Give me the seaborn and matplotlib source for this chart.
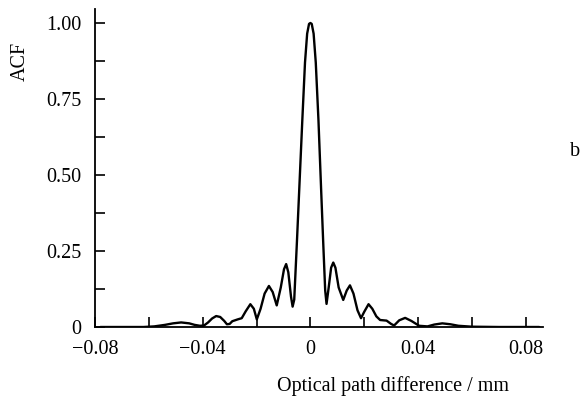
import matplotlib
matplotlib.use("Agg")
import matplotlib.pyplot as plt
import seaborn as sns
import pandas as pd
from matplotlib.ticker import FixedLocator, FixedFormatter

# Data
opd_mm = [-0.078, -0.070, -0.062, -0.058, -0.054, -0.051, -0.048, -0.045, -0.043, -0.041,
          -0.0395, -0.038, -0.0365, -0.035, -0.0335, -0.032, -0.031, -0.030, -0.029, -0.027,
          -0.0255, -0.024, -0.0223, -0.021, -0.0199, -0.0185, -0.017, -0.0154, -0.014, -0.0125,
          -0.011, -0.0098, -0.0090, -0.0082, -0.0072, -0.0066, -0.0060, -0.0050, -0.0040, -0.0030,
          -0.0020, -0.0012, -0.0005, 0.0, 0.0005, 0.0012, 0.0020, 0.0030, 0.0040, 0.0048,
          0.0055, 0.0060, 0.0068, 0.0077, 0.0085, 0.0093, 0.0105, 0.0122, 0.0135, 0.0147,
          0.0160, 0.0175, 0.0188, 0.0200, 0.0216, 0.0230, 0.0245, 0.0259, 0.0283, 0.0300,
          0.0311, 0.0330, 0.0352, 0.0375, 0.0404, 0.0435, 0.046, 0.049, 0.052, 0.055,
          0.060, 0.070, 0.085]
acf = [0.0, 0.0, 0.0, 0.002, 0.007, 0.012, 0.015, 0.012, 0.007, 0.004,
       0.005, 0.015, 0.028, 0.036, 0.033, 0.020, 0.009, 0.010, 0.019, 0.025,
       0.029, 0.052, 0.075, 0.060, 0.025, 0.060, 0.110, 0.135, 0.115, 0.071,
       0.130, 0.190, 0.207, 0.180, 0.100, 0.067, 0.090, 0.28, 0.48, 0.68,
       0.87, 0.965, 0.997, 1.0, 0.997, 0.965, 0.87, 0.68, 0.45, 0.27,
       0.12, 0.076, 0.13, 0.195, 0.212, 0.195, 0.130, 0.089, 0.120, 0.137,
       0.110, 0.055, 0.029, 0.050, 0.075, 0.060, 0.035, 0.023, 0.021, 0.010,
       0.005, 0.022, 0.030, 0.020, 0.004, 0.002, 0.008, 0.012, 0.009, 0.004,
       0.001, 0.0, 0.0]

x_ticks = [-0.08, -0.04, 0.0, 0.04, 0.08]
x_tick_labels = ["\u22120.08", "\u22120.04", "0", "0.04", "0.08"]
y_ticks = [0.0, 0.25, 0.50, 0.75, 1.00]
y_tick_labels = ["0", "0.25", "0.50", "0.75", "1.00"]

sns.set_theme(style="ticks")
plt.rcParams['font.family'] = ['Liberation Serif', 'DejaVu Serif']

df = pd.DataFrame({"opd": opd_mm, "acf": acf})

fig = plt.figure(figsize=(5.85, 3.96), dpi=100)
ax = fig.add_axes([95/585, 1-327/396, (543-95)/585, (327-9)/396])

sns.lineplot(data=df, x="opd", y="acf", ax=ax, color="black", linewidth=1.7,
             estimator=None, sort=False)

ax.set_xlim(-0.08, 0.0864)
ax.set_ylim(0, 1.046)

ax.xaxis.set_major_locator(FixedLocator(x_ticks))
ax.xaxis.set_major_formatter(FixedFormatter(x_tick_labels))
ax.xaxis.set_minor_locator(FixedLocator([-0.06, -0.02, 0.02, 0.06]))
ax.yaxis.set_major_locator(FixedLocator(y_ticks))
ax.yaxis.set_major_formatter(FixedFormatter(y_tick_labels))
ax.yaxis.set_minor_locator(FixedLocator([0.125, 0.375, 0.625, 0.875]))

ax.tick_params(axis="both", which="both", direction="in", width=1.2, color="black",
               labelsize=14.5, labelcolor="black")
ax.tick_params(axis="x", which="both", length=7, pad=9)
ax.tick_params(axis="y", which="both", length=7, pad=10)

for s in ["top", "right"]:
    ax.spines[s].set_visible(False)
for s in ["left", "bottom"]:
    ax.spines[s].set_linewidth(1.3)
    ax.spines[s].set_color("black")

ax.set_xlabel("Optical path difference / mm", fontsize=14.5, color="black")
ax.xaxis.set_label_coords(0.665, -0.155)
ax.set_ylabel("ACF", fontsize=14.5, color="black")
ax.yaxis.set_label_coords(-0.145, 0.836)

fig.text(575/585, 1-152/396, "b", fontsize=14.5, ha="center", va="center", color="black")

fig.savefig("out.png", dpi=100)
